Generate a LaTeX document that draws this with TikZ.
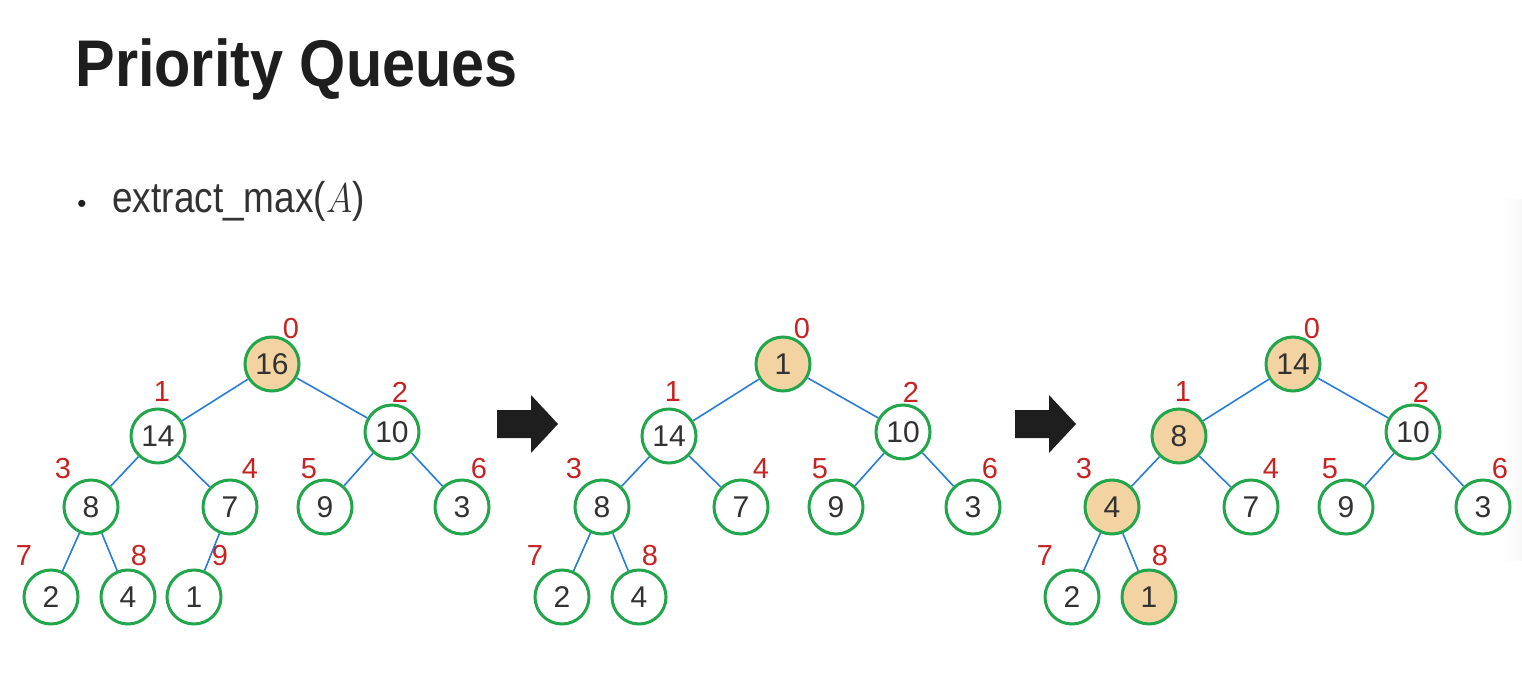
\documentclass[tikz,border=0pt]{standalone}
\usepackage{fontspec}
\setmainfont{Liberation Sans}
\begin{document}
\begin{tikzpicture}[x=0.5pt,y=-0.5pt,
        nodo/.style={circle,draw=verde,line width=1.5pt,fill=white,minimum size=27pt,inner sep=0pt,text=gris,font=\fontsize{15pt}{15pt}\selectfont},
        marcado/.style={nodo,fill=beige},
        indice/.style={text=rojo,inner sep=0pt,font=\fontsize{14.5pt}{14.5pt}\selectfont},
        arista/.style={azul,line width=0.8pt},
        flecha/.style={fill=negro}]
        %colores
        \definecolor{verde}{RGB}{34,166,76}
        \definecolor{azul}{RGB}{40,125,215}
        \definecolor{beige}{RGB}{243,211,162}
        \definecolor{rojo}{RGB}{200,35,35}
        \definecolor{gris}{RGB}{50,50,50}
        \definecolor{negro}{RGB}{30,30,31}

        % Fondo
        \useasboundingbox (0,0) rectangle (1522,674);
        \fill[white] (0,0) rectangle (1522,674);
        \shade[left color=white,right color=black!3] (1502,200) rectangle (1522,560);

        % Titulo y texto
        \node[anchor=base west,inner sep=0pt,text=negro,font=\bfseries\fontsize{33pt}{33pt}\selectfont] (titulo) at (75,87) {\scalebox{0.9}[1]{Priority Queues}};
        \node[anchor=base,inner sep=0pt,text=negro,font=\fontsize{13pt}{13pt}\selectfont] (punto) at (82,213) {•};
        \node[anchor=base west,inner sep=0pt,text=gris,font=\fontsize{21.5pt}{21.5pt}\selectfont] (extract) at (112,213) {\scalebox{0.86}[1]{extract\_max($A$)}};

        % Arbol 1
        \begin{scope}[shift={(272,364)}]
            \foreach \i/\v/\s/\x/\y/\lx/\ly in {0/16/marcado/0/0/19/-35, 1/14/nodo/-114/72/4/-44, 2/10/nodo/120/68/8/-40,
                3/8/nodo/-181/143/-28/-38, 4/7/nodo/-42/143/20/-38, 5/9/nodo/53/143/-16/-38, 6/3/nodo/190/143/17/-38,
                7/2/nodo/-221/233/-27/-41, 8/4/nodo/-144/233/11/-41, 9/1/nodo/-78/233/26/-41}
            {
                \node[\s] (a\i) at (\x,\y) {\v};
                \node[indice] (ia\i) at ([shift={(\lx,\ly)}]a\i.center) {\i};
            }
            \foreach \p/\c in {0/1, 0/2, 1/3, 1/4, 2/5, 2/6, 3/7, 3/8, 4/9}
            \draw[arista] (a\p) -- (a\c);
        \end{scope}

        % Arbol 2
        \begin{scope}[shift={(783,364)}]
            \foreach \i/\v/\s/\x/\y/\lx/\ly in {0/1/marcado/0/0/19/-35, 1/14/nodo/-114/72/4/-44, 2/10/nodo/120/68/8/-40,
                3/8/nodo/-181/143/-28/-38, 4/7/nodo/-42/143/20/-38, 5/9/nodo/53/143/-16/-38, 6/3/nodo/190/143/17/-38,
                7/2/nodo/-221/233/-27/-41, 8/4/nodo/-144/233/11/-41}
            {
                \node[\s] (b\i) at (\x,\y) {\v};
                \node[indice] (ib\i) at ([shift={(\lx,\ly)}]b\i.center) {\i};
            }
            \foreach \p/\c in {0/1, 0/2, 1/3, 1/4, 2/5, 2/6, 3/7, 3/8}
            \draw[arista] (b\p) -- (b\c);
        \end{scope}

        % Arbol 3
        \begin{scope}[shift={(1293,364)}]
            \foreach \i/\v/\s/\x/\y/\lx/\ly in {0/14/marcado/0/0/19/-35, 1/8/marcado/-114/72/4/-44, 2/10/nodo/120/68/8/-40,
                3/4/marcado/-181/143/-28/-38, 4/7/nodo/-42/143/20/-38, 5/9/nodo/53/143/-16/-38, 6/3/nodo/190/143/17/-38,
                7/2/nodo/-221/233/-27/-41, 8/1/marcado/-144/233/11/-41}
            {
                \node[\s] (c\i) at (\x,\y) {\v};
                \node[indice] (ic\i) at ([shift={(\lx,\ly)}]c\i.center) {\i};
            }
            \foreach \p/\c in {0/1, 0/2, 1/3, 1/4, 2/5, 2/6, 3/7, 3/8}
            \draw[arista] (c\p) -- (c\c);
        \end{scope}

        % Flechas
        \foreach \x in {497,1015}
        \fill[flecha] (\x,410) -- ++(34,0) -- ++(0,-15) -- ++(27,29) -- ++(-27,29) -- ++(0,-15) -- ++(-34,0) -- cycle;
    \end{tikzpicture}
\end{document}
